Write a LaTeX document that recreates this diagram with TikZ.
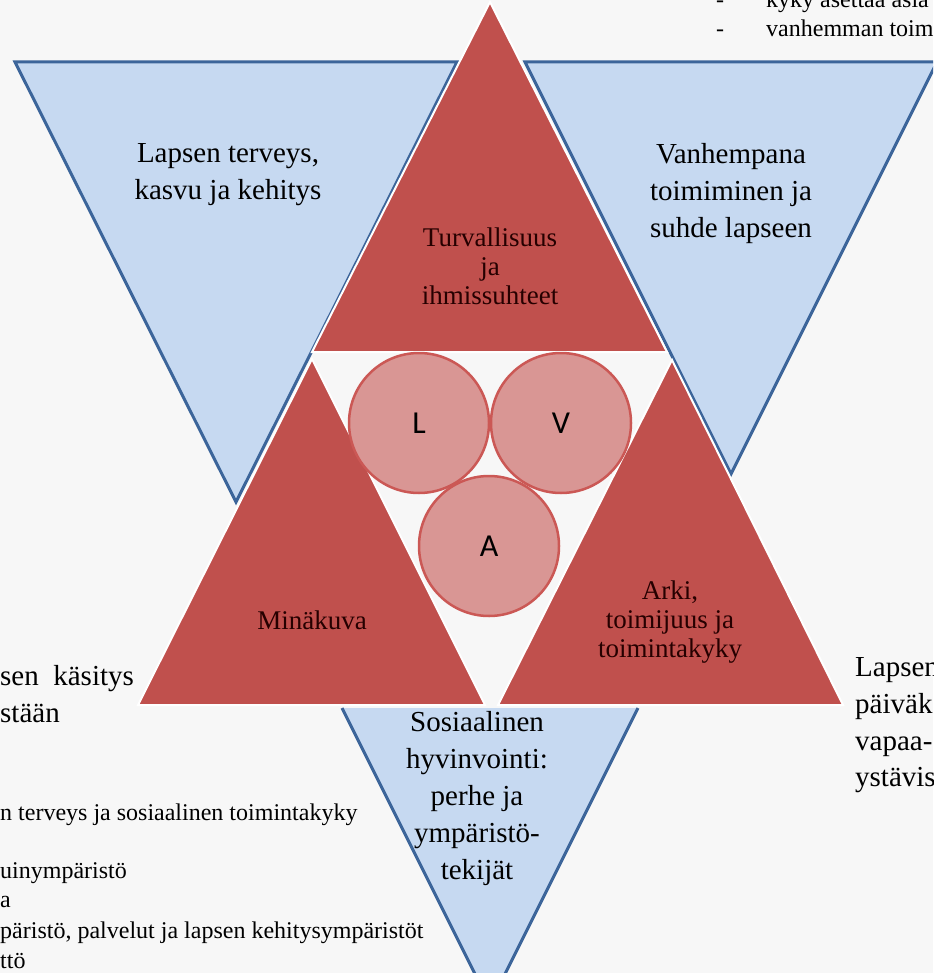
\documentclass[tikz,border=0pt]{standalone}
\usepackage{fontspec}
\setmainfont{Liberation Serif}
\newfontfamily\circfont{Carlito}
\usetikzlibrary{positioning}
\definecolor{cRed}{HTML}{C0504D}
\definecolor{cBlue}{HTML}{C6D9F1}
\definecolor{cBlueLine}{HTML}{3C659A}
\definecolor{cBall}{HTML}{D99694}
\definecolor{cBall2}{HTML}{CB5855}
\definecolor{cBack}{HTML}{F7F7F7}

\begin{document}
\begin{tikzpicture}[x=1pt,y=-1pt]
    \tikzstyle{outer}=[fill=cBlue, draw=cBlueLine, line width=3pt, line join=miter]
    \tikzstyle{inner}=[fill=cRed, draw=white, line width=2pt, line join=miter]
    \tikzstyle{ball}=[circle, minimum size=140pt, inner sep=0pt, fill=cBall, draw=cBall2, line width=2.5pt, font=\circfont\fontsize{32}{34}\selectfont]
    \tikzstyle{biglbl}=[align=center, inner sep=0pt, font=\fontsize{29}{37}\selectfont]
    \tikzstyle{redlbl}=[align=center, inner sep=0pt, text=black!85!red, font=\fontsize{27}{29}\selectfont]
    \tikzstyle{side}=[anchor=base west, inner sep=0pt, font=\fontsize{29}{37}\selectfont]
    \tikzstyle{small}=[anchor=base west, inner sep=0pt, font=\fontsize{24}{30}\selectfont]

    \useasboundingbox (0,0) rectangle (933,973);
    \clip (0,0) rectangle (933,973);
    \fill[cBack] (0,0) rectangle (933,973);

    % blue triangles
    \coordinate (b1a) at (15,62);  \coordinate (b1b) at (457,62);  \coordinate (b1c) at (236,502);
    \coordinate (b2a) at (525,62); \coordinate (b2b) at (937,62);  \coordinate (b2c) at (731,474);
    \coordinate (b3a) at (342,708); \coordinate (b3b) at (638,708); \coordinate (b3c) at (490,1004);
    \draw[outer] (b1a) -- (b1b) -- (b1c) -- cycle;
    \draw[outer] (b2a) -- (b2b) -- (b2c) -- cycle;
    \fill[cBlue] (b3a) -- (b3b) -- (b3c) -- cycle;
    \draw[outer, fill=none] (b3a) -- (b3c) -- (b3b);

    % red triangles
    \coordinate (r1a) at (312,352); \coordinate (r1b) at (667,352); \coordinate (r1c) at (490,2);
    \coordinate (r2a) at (138,705); \coordinate (r2b) at (485,705); \coordinate (r2c) at (312,359);
    \coordinate (r3a) at (498,705); \coordinate (r3b) at (843,705); \coordinate (r3c) at (672,360);
    \draw[inner] (r1a) -- (r1b) -- (r1c) -- cycle;
    \draw[inner] (r2a) -- (r2b) -- (r2c) -- cycle;
    \draw[inner] (r3a) -- (r3b) -- (r3c) -- cycle;

    % circles
    \node[ball] (L) at (419,423) {L};
    \node[ball] (V) at (561,423) {V};
    \node[ball] (A) at (489,546) {A};

    % labels
    \node[biglbl] (health)  at (228,175) {Lapsen terveys,\\kasvu ja kehitys};
    \node[biglbl] (parent)  at (731,194) {Vanhempana\\toimiminen ja\\suhde lapseen};
    \node[biglbl] (social)  at (477,799) {Sosiaalinen\\hyvinvointi:\\perhe ja\\ympäristö-\\tekijät};
    \node[redlbl] (safety)  at (490,266) {Turvallisuus\\ja\\ihmissuhteet};
    \node[redlbl] (self)    at (312,620) {Minäkuva};
    \node[redlbl] (daily)   at (670,622) {Arki,\\toimijuus ja\\toimintakyky};

    % cut texts at the edges
    \node[side] (selfL1) at (0,685) {sen \ käsitys};
    \node[side] (selfL2) at (0,722) {stään};
    \node[side] (dayR1) at (855,676) {Lapsen};
    \node[side] (dayR2) at (855,713) {päiväk};
    \node[side] (dayR3) at (855,750) {vapaa-};
    \node[side] (dayR4) at (855,786) {ystävis};

    \node[small] (listL1) at (0,820) {n terveys ja sosiaalinen toimintakyky};
    \node[small] (listL2) at (0,878) {uinympäristö};
    \node[small] (listL3) at (0,907) {a};
    \node[small] (listL4) at (0,938) {päristö, palvelut ja lapsen kehitysympäristöt};
    \node[small] (listL5) at (0,968) {ttö};

    \node[small] (dashR1) at (716,8) {-};
    \node[small] (listR1) at (766,8) {kyky asettaa asia};
    \node[small] (dashR2) at (716,37) {-};
    \node[small] (listR2) at (766,37) {vanhemman toim};

\end{tikzpicture}
\end{document}
